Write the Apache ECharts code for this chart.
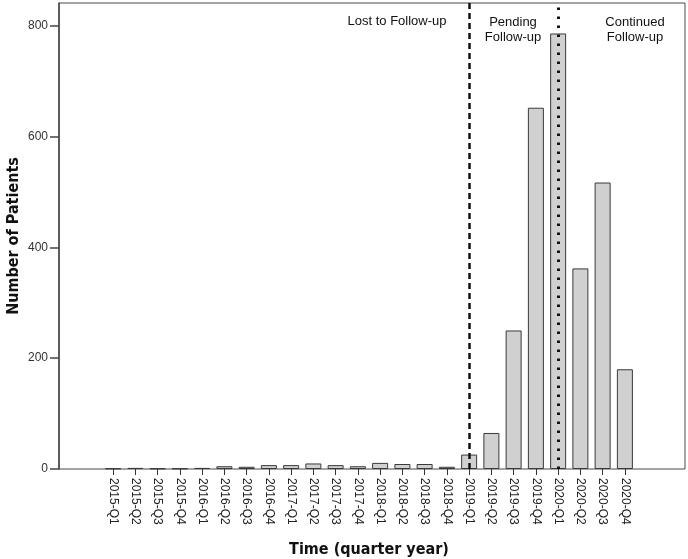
<!DOCTYPE html>
<html>
<head>
<meta charset="utf-8">
<script src="https://cdn.jsdelivr.net/npm/echarts@6/dist/echarts.min.js"></script>
<style>html,body{margin:0;padding:0;background:#fff}#c{width:688px;height:559px}</style>
</head>
<body>
<div id="c"></div>
<script>
const categories = ['2015-Q1','2015-Q2','2015-Q3','2015-Q4','2016-Q1','2016-Q2','2016-Q3','2016-Q4',
  '2017-Q1','2017-Q2','2017-Q3','2017-Q4','2018-Q1','2018-Q2','2018-Q3','2018-Q4',
  '2019-Q1','2019-Q2','2019-Q3','2019-Q4','2020-Q1','2020-Q2','2020-Q3','2020-Q4'];
const patients = [1, 2, 1, 1, 2, 5, 4, 7, 7, 10, 7, 5, 11, 9, 9, 4, 26, 65, 250, 652, 786, 362, 517, 180];
const yTicks = [0, 200, 400, 600, 800];
const dividers = ['2019-Q1', '2020-Q1'];
const regionLabels = ['Lost to Follow-up', 'Pending\nFollow-up', 'Continued\nFollow-up'];

const FONT = '"Liberation Sans", Arial, sans-serif';
const TITLE_FONT = '"Liberation Sans Narrow", "DejaVu Sans Condensed", "Liberation Sans", sans-serif';
const YMAX = 841;
const chart = echarts.init(document.getElementById('c'), null, {renderer: 'canvas'});
chart.setOption({
  animation: false,
  backgroundColor: '#fff',
  grid: [
    {left: 59, right: 3, top: 3, bottom: 90, show: true, borderColor: '#4a4a4a', borderWidth: 1, backgroundColor: 'transparent', outerBoundsMode: 'none', containLabel: false},
    {left: 102, right: 52, top: 3, bottom: 90, outerBoundsMode: 'none', containLabel: false}
  ],
  xAxis: [
    {type: 'value', gridIndex: 0, min: 0, max: 1, show: false},
    {type: 'category', gridIndex: 1, data: categories,
     axisLine: {show: false},
     axisTick: {show: true, alignWithLabel: true, length: 6, lineStyle: {color: '#333', width: 1}},
     axisLabel: {rotate: -90, interval: 0, color: '#222', fontFamily: FONT, fontSize: 12, margin: 9},
     name: 'Time (quarter year)', nameLocation: 'middle', nameGap: 73,
     nameTextStyle: {fontFamily: TITLE_FONT, fontWeight: 'bold', fontSize: 16, color: '#111'}},
  ],
  yAxis: [
    {type: 'value', gridIndex: 0, min: 0, max: YMAX,
     axisLine: {show: true, lineStyle: {color: '#444', width: 1.5}},
     axisTick: {show: true, length: 9, customValues: yTicks, lineStyle: {color: '#444', width: 1.5}},
     axisLabel: {customValues: yTicks, color: '#333', fontFamily: FONT, fontSize: 12, margin: 11},
     splitLine: {show: false},
     name: 'Number of Patients', nameLocation: 'middle', nameGap: 37, nameRotate: 90, nameMoveOverlap: false,
     nameTextStyle: {fontFamily: TITLE_FONT, fontWeight: 'bold', fontSize: 16, color: '#111'}},
    {type: 'value', gridIndex: 1, min: 0, max: YMAX, show: false}
  ],
  series: [{
    type: 'bar', xAxisIndex: 1, yAxisIndex: 1, data: patients, barWidth: 16,
    itemStyle: {color: '#d0d0d0', borderColor: '#3a3a3a', borderWidth: 1},
    markLine: {
      silent: true, symbol: 'none', label: {show: false},
      data: [
        {xAxis: dividers[0], lineStyle: {color: '#111', width: 2.5, type: [6, 4]}},
        {xAxis: dividers[1], lineStyle: {color: '#111', width: 3, type: [2.5, 6.5]}}
      ]
    }
  }],
  graphic: [
    {type: 'text', x: 397, y: 15, style: {text: regionLabels[0], font: '13px ' + FONT, fill: '#111', align: 'center'}},
    {type: 'text', x: 513, y: 15, style: {text: regionLabels[1], font: '13px ' + FONT, fill: '#111', align: 'center', lineHeight: 15}},
    {type: 'text', x: 635, y: 15, style: {text: regionLabels[2], font: '13px ' + FONT, fill: '#111', align: 'center', lineHeight: 15}}
  ]
});
</script>
</body>
</html>
